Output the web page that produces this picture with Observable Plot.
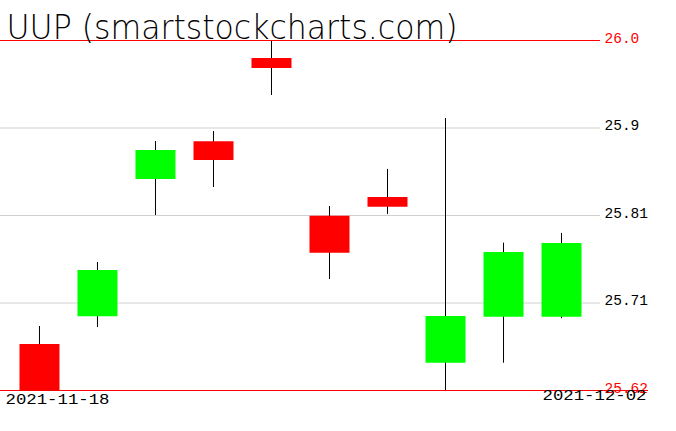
<!DOCTYPE html>
<html><head><meta charset="utf-8">
<script src="https://cdn.jsdelivr.net/npm/d3@7"></script>
<script src="https://cdn.jsdelivr.net/npm/@observablehq/plot@0.6"></script>
<style>html,body{margin:0;padding:0;background:#fff;overflow:hidden}</style>
</head><body><div id="chart"></div>
<script>
const dates = ["2021-11-18","2021-11-19","2021-11-22","2021-11-23","2021-11-24","2021-11-26","2021-11-29","2021-11-30","2021-12-01","2021-12-02"];
const open  = [25.670, 25.700, 25.849, 25.890, 25.9805, 25.8093, 25.8295, 25.6496, 25.6996, 25.6996];
const close = [25.620, 25.7503, 25.8806, 25.8697, 25.9696, 25.769, 25.819, 25.7003, 25.7698, 25.7796];
const high  = [25.6895, 25.759, 25.8903, 25.9012, 26.000, 25.8198, 25.860, 25.9153, 25.780, 25.7905];
const low   = [25.620, 25.6884, 25.810, 25.8404, 25.9403, 25.7405, 25.811, 25.620, 25.6496, 25.698];
const tickValues = [25.62, 25.715, 25.81, 25.905, 26.0];
const tickLabels = ["25.62", "25.71", "25.81", "25.9", "26.0"];
const title = "UUP (smartstockcharts.com)";

const candles = dates.map((d, i) => ({i, date: d, open: open[i], close: close[i], high: high[i], low: low[i], up: close[i] >= open[i]}));
const grid = tickValues.map((v, k) => ({v, label: tickLabels[k], edge: k === 0 || k === tickValues.length - 1}));

const chart = Plot.plot({
  width: 676, height: 431,
  marginLeft: 0, marginRight: 76, marginTop: 40, marginBottom: 41,
  x: {type: "linear", domain: [-0.672, 9.672], axis: null},
  y: {domain: [25.62, 26.0], axis: null},
  style: {background: "#fff"},
  marks: [
    Plot.ruleY(grid.filter(d => !d.edge), {y: "v", stroke: "#d0d0d0", strokeWidth: 1}),
    Plot.ruleX(candles, {x: "i", y1: "low", y2: "high", stroke: "#000", strokeWidth: 1}),
    Plot.ruleX(candles, {x: "i", y1: "open", y2: "close", stroke: d => d.up ? "#00ff00" : "#ff0000", strokeWidth: 40}),
    Plot.ruleY([tickValues[tickValues.length - 1]], {y: d => d, stroke: "#ff0000", strokeWidth: 1}),
    Plot.ruleY([tickValues[0]], {y: d => d, x1: -0.672, x2: 10.5, stroke: "#ff0000", strokeWidth: 1, clip: false}),
    Plot.text(grid, {y: "v", text: "label", frameAnchor: "right", textAnchor: "start", lineAnchor: "bottom", dx: 4, dy: 2,
      fill: d => d.edge ? "#ff0000" : "#000", fontSize: 14.5, fontFamily: "Liberation Mono"}),
    Plot.text([dates[0]], {text: d => d, frameAnchor: "bottom-left", textAnchor: "start", lineAnchor: "top", dx: 5, dy: 3,
      fill: "#000", fontSize: 15, fontFamily: "Liberation Mono", className: "datelbl"}),
    Plot.text([dates[dates.length - 1]], {text: d => d, frameAnchor: "bottom-right", textAnchor: "end", lineAnchor: "top", dx: 46, dy: -1,
      fill: "#000", fontSize: 15, fontFamily: "Liberation Mono", className: "datelbl"}),
    Plot.text([title], {text: d => d, frameAnchor: "top-left", textAnchor: "start", lineAnchor: "bottom", dx: 6, dy: -2,
      fill: "#000", fontSize: 33, fontWeight: 200, fontFamily: "'DejaVu Sans ExtraLight', 'DejaVu Sans'", className: "titlelbl"})
  ]
});
document.getElementById("chart").appendChild(chart);
chart.querySelectorAll(".datelbl text").forEach(t => { t.setAttribute("textLength", 104); t.setAttribute("lengthAdjust", "spacingAndGlyphs"); });
chart.querySelectorAll(".titlelbl text").forEach(t => { t.setAttribute("textLength", 451); t.setAttribute("lengthAdjust", "spacingAndGlyphs"); });
</script>
</body></html>
